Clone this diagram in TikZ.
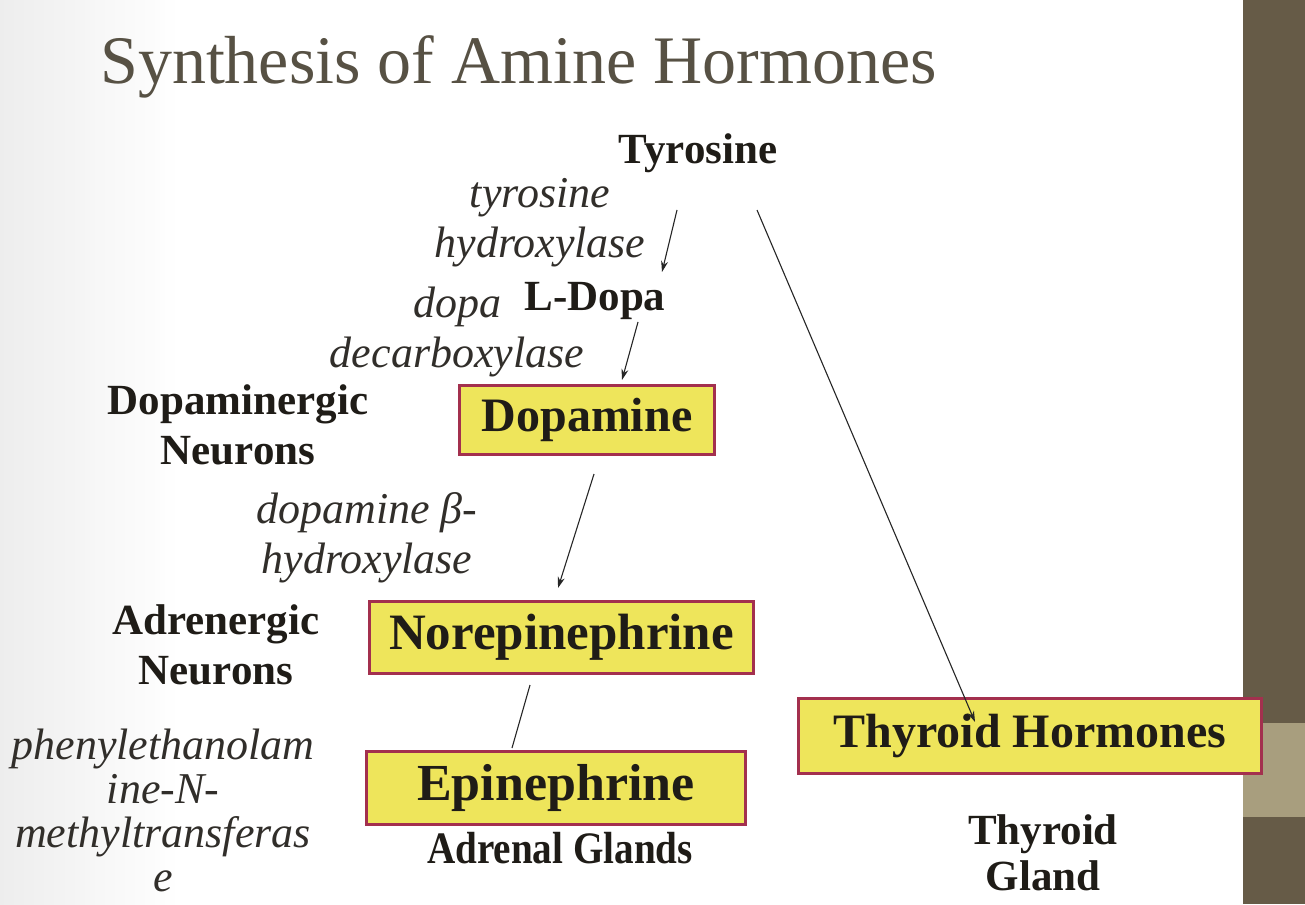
\documentclass[tikz,border=0pt]{standalone}
\usepackage{fontspec}
\setmainfont{Liberation Serif}
\usetikzlibrary{arrows.meta,calc}

\definecolor{boxfill}{HTML}{EEE55B}
\definecolor{boxedge}{HTML}{A3304E}
\definecolor{titlegray}{HTML}{575144}
\definecolor{barbrown}{HTML}{665B47}
\definecolor{bartan}{HTML}{A89E7E}
\definecolor{ink}{HTML}{1F1C17}

\begin{document}
\begin{tikzpicture}[x=1pt, y=-1pt,
    hormone/.style={rectangle, draw=boxedge, fill=boxfill, line width=3pt, inner sep=0pt, text=ink, font=\fontsize{48}{48}\selectfont\bfseries},
    compound/.style={align=center, text=ink, font=\fontsize{43}{50}\selectfont\bfseries},
    enzyme/.style={align=center, text=ink!92, font=\fontsize{44}{50}\selectfont\itshape},
    arrow/.style={-{Stealth[length=11pt,width=7pt]}, line width=1.1pt, draw=black!85}
]
    \useasboundingbox (0,0) rectangle (1305,904);
    \fill[white] (0,0) rectangle (1305,904);
    \shade[left color=black!7, right color=white] (0,0) rectangle (180,904);
    \fill[barbrown] (1243,0) rectangle (1305,904);
    \fill[bartan] (1243,723) rectangle (1305,817);

    \node[anchor=base west, inner sep=0pt, text=titlegray, font=\fontsize{68}{68}\selectfont] (title) at (100,84) {Synthesis of Amine Hormones};

    % pathway
    \node[compound, anchor=base] (tyr) at (698,164) {Tyrosine};
    \node[enzyme] (tyrhyd) at (540,223) {tyrosine\\hydroxylase};
    \node[compound, anchor=base] (ldopa) at (595,310) {L-Dopa};
    \node[enzyme] (dopadec) at (457,332) {dopa\\decarboxylase};
    \node[hormone, minimum width=255pt, minimum height=69pt] (dopa) at (587,420) {Dopamine};
    \node[compound] (dopneur) at (238,425) {Dopaminergic\\Neurons};
    \node[enzyme] (dbh) at (367,538) {dopamine β-\\hydroxylase};
    \node[hormone, minimum width=384pt, minimum height=72pt, font=\fontsize{51}{51}\selectfont\bfseries] (norepi) at (561.5,637.5) {Norepinephrine};
    \node[compound] (adrneur) at (216,645) {Adrenergic\\Neurons};
    \node[hormone, minimum width=379pt, minimum height=73pt, font=\fontsize{52}{52}\selectfont\bfseries] (epi) at (556,788) {Epinephrine};
    \node[compound, anchor=base] (adrgl) at (560,863) {\scalebox{0.87}[1]{\fontsize{45}{45}\selectfont Adrenal Glands}};
    \node[enzyme, font=\fontsize{44}{44}\selectfont\itshape] (pnmt) at (163,810) {phenylethanolam\\ine-N-\\methyltransferas\\e};
    \node[hormone, minimum width=463pt, minimum height=75pt] (thyr) at (1030,736) {Thyroid Hormones};
    \node[compound, font=\fontsize{43}{46}\selectfont\bfseries] (thyrgl) at (1043,853) {Thyroid\\Gland};

    \draw[arrow] ($(tyr.base)+(-21,46)$) -- ($(ldopa.base)+(67,-38)$);
    \draw[arrow] ($(ldopa.base)+(43,12)$) -- ($(dopa.north)+(35,-4)$);
    \draw[arrow] ($(dopa.south)+(7,18)$) -- ($(norepi.north)+(-3.5,-12)$);
    \draw[line width=1.1pt, draw=black!85] ($(norepi.south)+(-31.5,10)$) -- ($(epi.north)+(-44,-2)$);
    \draw[arrow] ($(tyr.base)+(59,46)$) -- ($(thyr.north)+(-55,25)$);
\end{tikzpicture}
\end{document}
